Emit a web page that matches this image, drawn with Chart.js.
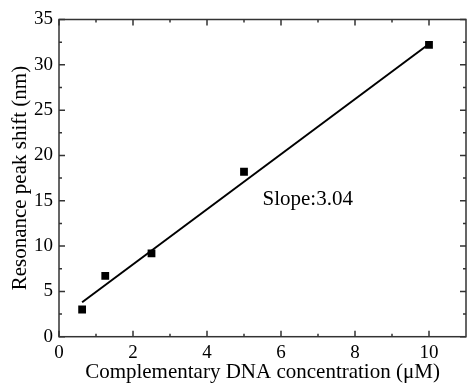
<!DOCTYPE html>
<html lang="en">
<head>
    <meta charset="UTF-8" />
    <title>DNA concentration vs resonance shift</title>
    <script src="https://cdn.jsdelivr.net/npm/chart.js"></script>
    <style>
        html, body { margin: 0; padding: 0; background: #fff; }
        #wrap { width: 467px; height: 385px; }
    </style>
</head>
<body>
    <div id="wrap"><canvas id="shiftChart"></canvas></div>

    <script>
        // measured points (uM, nm)
        const concentration = [0.625, 1.25, 2.5, 5, 10];
        const peakShift = [3.0, 6.7, 9.2, 18.2, 32.2];

        // linear fit end points
        const fitX = [0.625, 10];
        const fitY = [3.8, 32.3];

        const xTicks = [0, 2, 4, 6, 8, 10];
        const yTicks = [0, 5, 10, 15, 20, 25, 30, 35];
        const slopeLabel = 'Slope:3.04';

        const serif = '"Liberation Serif", "Times New Roman", serif';

        // frame + inward ticks like the original figure
        const frameTicks = {
            id: 'frameTicks',
            afterDraw(chart) {
                const { ctx, chartArea: a, scales: { x, y } } = chart;
                ctx.save();
                ctx.strokeStyle = '#333';
                ctx.lineWidth = 1.5;
                ctx.strokeRect(a.left, a.top, a.right - a.left, a.bottom - a.top);

                ctx.beginPath();
                for (let i = 0; i < xTicks.length; i++) {
                    const px = x.getPixelForValue(xTicks[i]);
                    ctx.moveTo(px, a.bottom); ctx.lineTo(px, a.bottom - 6);
                    ctx.moveTo(px, a.top); ctx.lineTo(px, a.top + 6);
                    const mid = xTicks[i] + 1;
                    if (mid < x.max) {
                        const pm = x.getPixelForValue(mid);
                        ctx.moveTo(pm, a.bottom); ctx.lineTo(pm, a.bottom - 3);
                        ctx.moveTo(pm, a.top); ctx.lineTo(pm, a.top + 3);
                    }
                }
                for (let i = 0; i < yTicks.length; i++) {
                    const py = y.getPixelForValue(yTicks[i]);
                    ctx.moveTo(a.left, py); ctx.lineTo(a.left + 6, py);
                    ctx.moveTo(a.right, py); ctx.lineTo(a.right - 6, py);
                    const mid = yTicks[i] + 2.5;
                    if (mid < y.max) {
                        const pm = y.getPixelForValue(mid);
                        ctx.moveTo(a.left, pm); ctx.lineTo(a.left + 3, pm);
                        ctx.moveTo(a.right, pm); ctx.lineTo(a.right - 3, pm);
                    }
                }
                ctx.stroke();

                // slope annotation
                ctx.fillStyle = '#000';
                ctx.font = '21px ' + serif;
                ctx.textAlign = 'left';
                ctx.textBaseline = 'middle';
                ctx.fillText(slopeLabel, x.getPixelForValue(5.5), y.getPixelForValue(15.1));
                ctx.restore();
            }
        };

        new Chart(document.getElementById('shiftChart'), {
            type: 'scatter',
            data: {
                datasets: [
                    {
                        label: 'Data',
                        data: concentration.map((c, i) => ({ x: c, y: peakShift[i] })),
                        pointStyle: 'rect',
                        pointRadius: 5.5,
                        backgroundColor: '#000',
                        borderColor: '#000',
                        borderWidth: 0
                    },
                    {
                        label: 'Fit',
                        type: 'line',
                        data: fitX.map((c, i) => ({ x: c, y: fitY[i] })),
                        borderColor: '#000',
                        borderWidth: 2,
                        pointRadius: 0,
                        fill: false
                    }
                ]
            },
            options: {
                responsive: true,
                maintainAspectRatio: false,
                animation: false,
                layout: { autoPadding: false, padding: { top: 19.5, right: 1, left: 0, bottom: 0 } },
                plugins: { legend: { display: false }, tooltip: { enabled: false } },
                scales: {
                    x: {
                        type: 'linear',
                        min: 0,
                        max: 11,
                        afterBuildTicks: s => { s.ticks = xTicks.map(v => ({ value: v })); },
                        afterFit: s => { s.height = 48.3; s.paddingLeft = 0; s.paddingRight = 0; },
                        grid: { display: false, drawTicks: false },
                        border: { display: false },
                        ticks: { color: '#000', padding: 5, font: { family: serif, size: 19 } },
                        title: {
                            display: true,
                            text: 'Complementary DNA concentration (\u03bcM)',
                            color: '#000',
                            font: { family: serif, size: 21 },
                            padding: { top: -1, bottom: 0 }
                        }
                    },
                    y: {
                        min: 0,
                        max: 35,
                        afterBuildTicks: s => { s.ticks = yTicks.map(v => ({ value: v })); },
                        afterFit: s => { s.width = 59; s.paddingTop = 0; s.paddingBottom = 0; },
                        grid: { display: false, drawTicks: false },
                        border: { display: false },
                        ticks: { color: '#000', padding: 6, font: { family: serif, size: 19 } },
                        title: {
                            display: true,
                            text: 'Resonance peak shift (nm)',
                            color: '#000',
                            font: { family: serif, size: 21 },
                            padding: { top: 7.5, bottom: 0 }
                        }
                    }
                }
            },
            plugins: [frameTicks]
        });
    </script>
</body>
</html>
